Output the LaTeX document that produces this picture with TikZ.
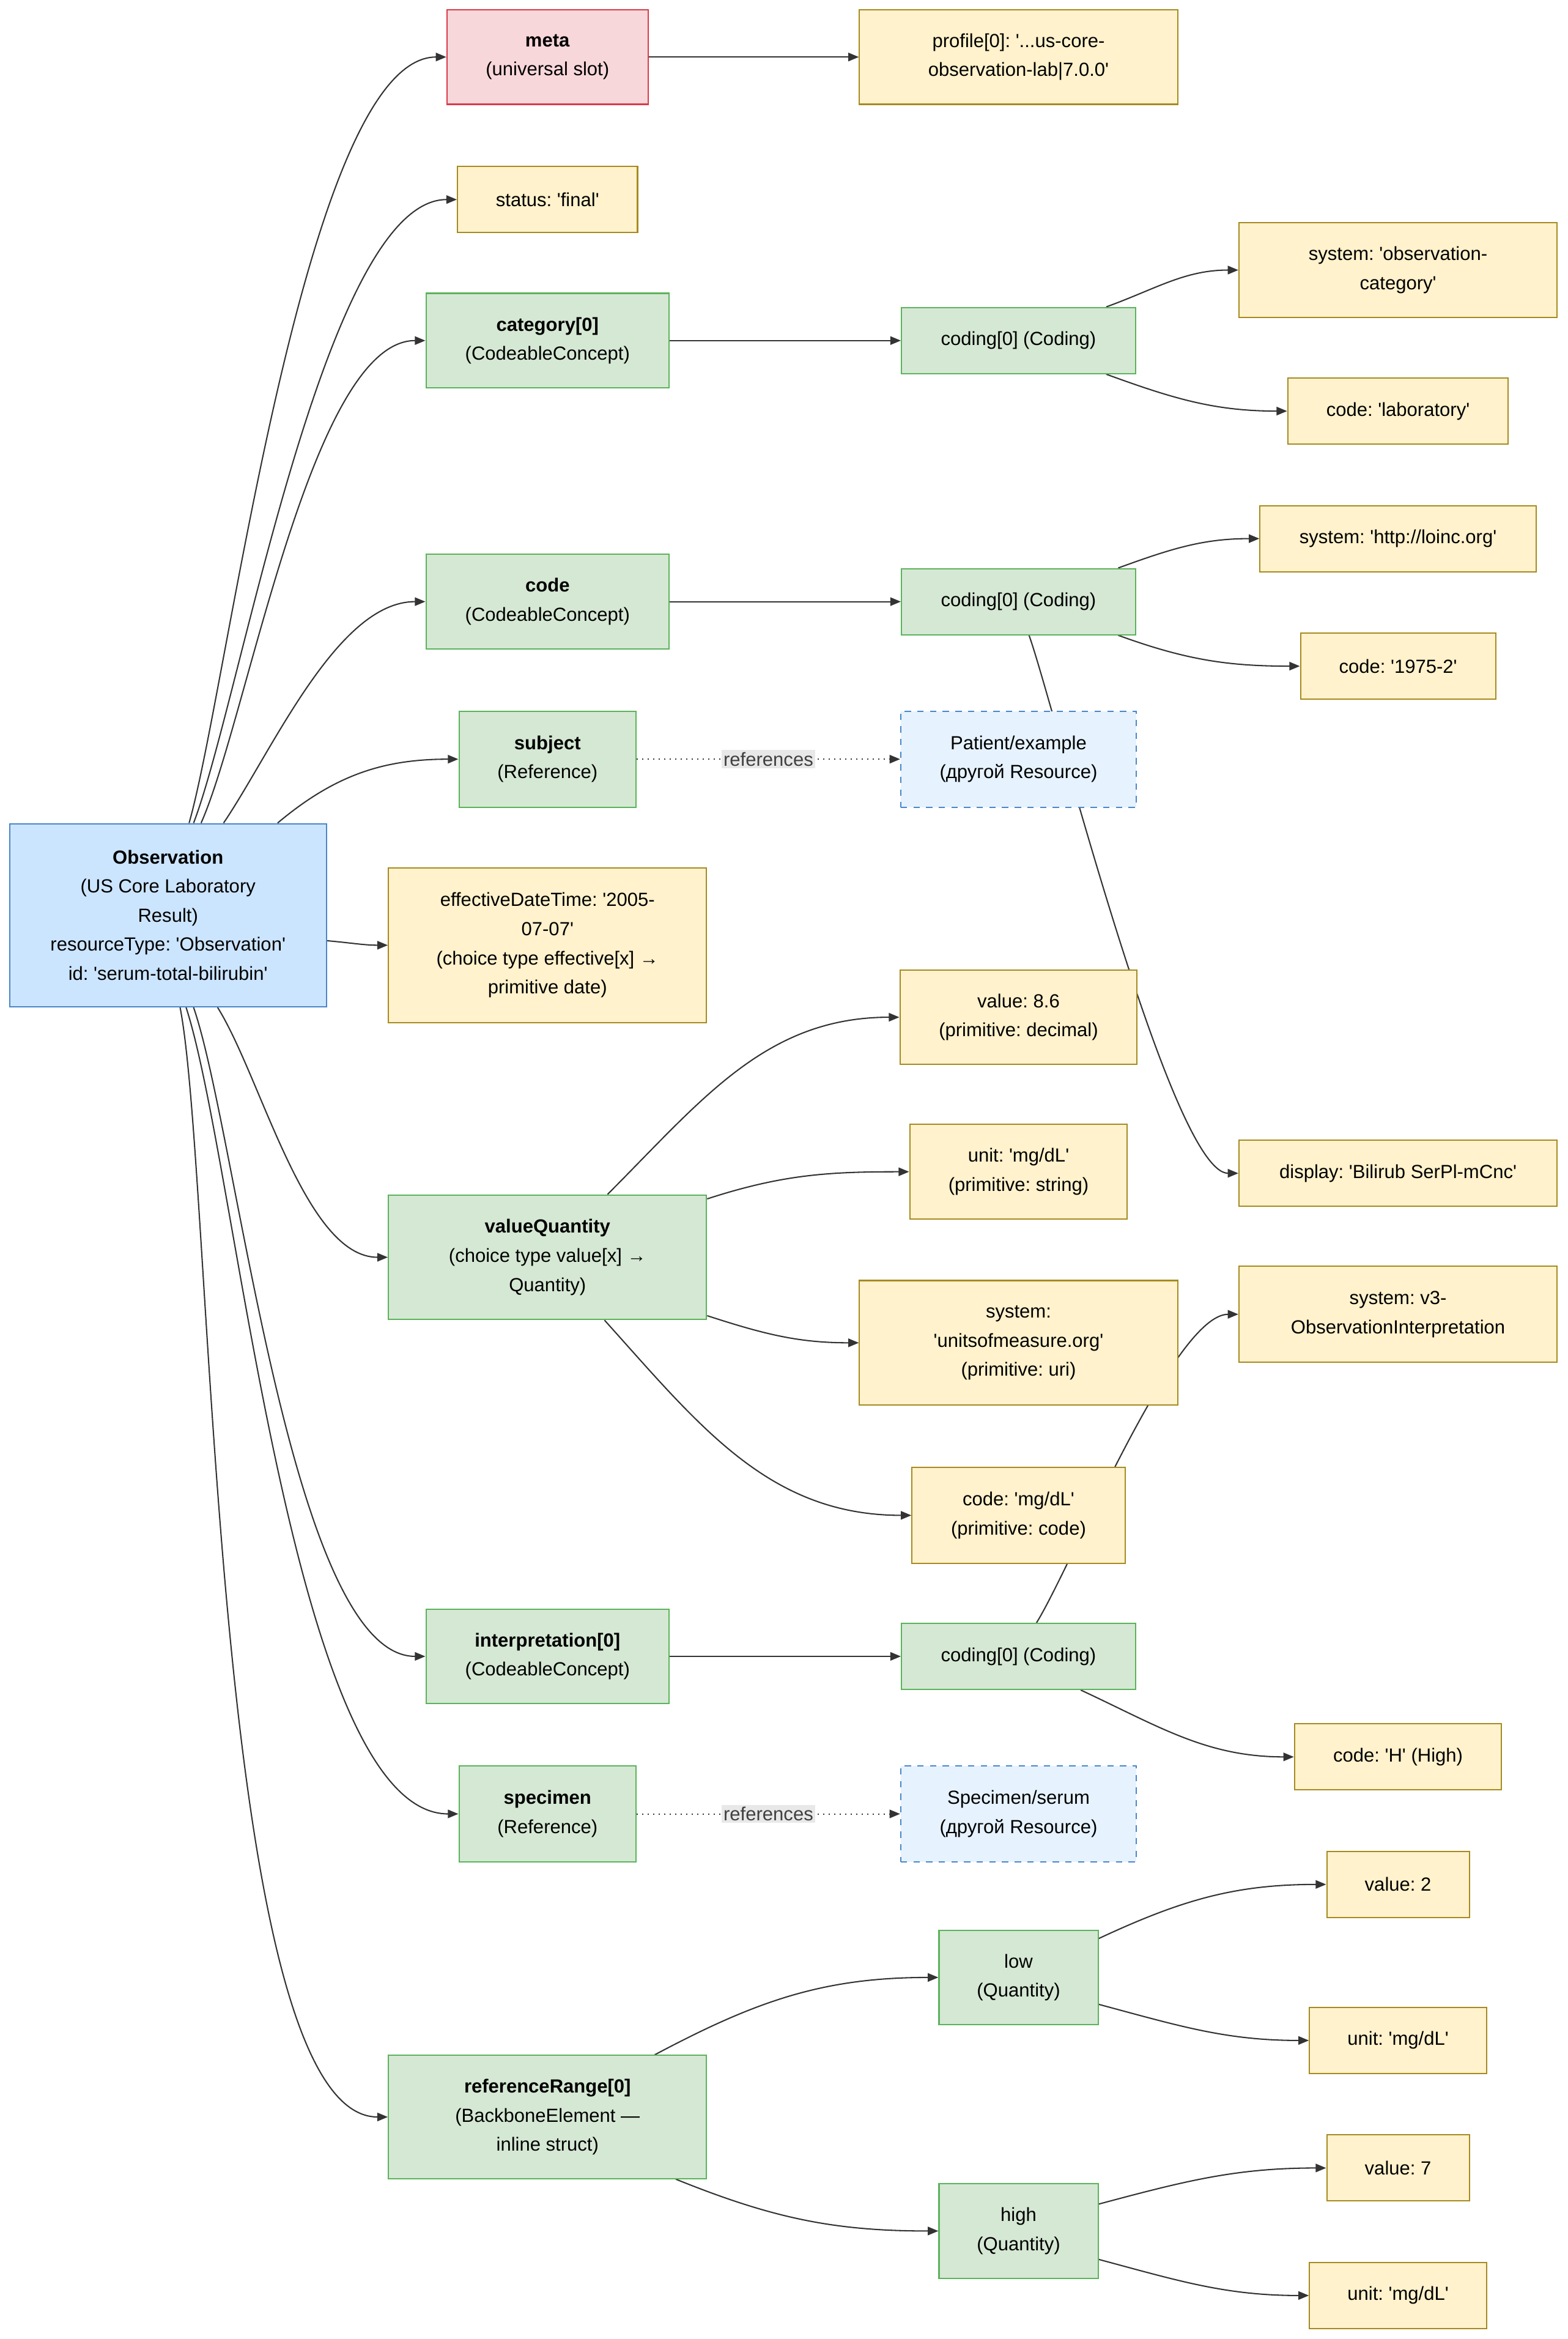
\documentclass[tikz,border=0pt]{standalone}
\usepackage{fontspec}
\setmainfont{Liberation Sans}
\usetikzlibrary{arrows.meta,calc,backgrounds}

\definecolor{yfill}{HTML}{FFF2CC}
\definecolor{ydraw}{HTML}{A68A1F}
\definecolor{gfill}{HTML}{D5E8D4}
\definecolor{gdraw}{HTML}{5BB35B}
\definecolor{rfill}{HTML}{F8D7DA}
\definecolor{rdraw}{HTML}{D93A4A}
\definecolor{bfill}{HTML}{CCE5FF}
\definecolor{bdraw}{HTML}{4A86C8}
\definecolor{rfill2}{HTML}{E6F2FD}
\definecolor{edge}{HTML}{333333}
\newcommand{\q}{\textquotesingle}

\begin{document}
\frenchspacing
\begin{tikzpicture}[x=0.025cm,y=-0.025cm,
	font=\fontsize{9}{13.8}\selectfont,
	box/.style={draw,align=center,inner sep=2pt,line width=0.6pt},
	prim/.style={box,fill=yfill,draw=ydraw},
	cplx/.style={box,fill=gfill,draw=gdraw},
	slot/.style={box,fill=rfill,draw=rdraw},
	root/.style={box,fill=bfill,draw=bdraw},
	ref/.style={box,fill=rfill2,draw=bdraw,dashed},
	arr/.style={draw=edge,line width=0.6pt,-{Triangle[length=5pt,width=4pt]}},
	refarr/.style={arr,dotted},
	reflabel/.style={fill=gray!18,text=black!75,inner sep=1pt}]
	\useasboundingbox (0,0) rectangle (1045,1559);

	% root
	\node (Obs) at (112,610) [root,minimum width=5.275cm,minimum height=3.05cm] {\textbf{Observation}\\(US Core Laboratory\\Result)\\resourceType: \q Observation\q\\id: \q serum-total-bilirubin\q};

	% first level
	\node (Meta) at (365,38) [slot,minimum width=3.35cm,minimum height=1.575cm] {\textbf{meta}\\(universal slot)};
	\node (Status) at (365,133) [prim,minimum width=3cm,minimum height=1.1cm] {status: \q final\q};
	\node (Cat) at (365,227) [cplx,minimum width=4.05cm,minimum height=1.575cm] {\textbf{category[0]}\\(CodeableConcept)};
	\node (Code) at (365,401) [cplx,minimum width=4.05cm,minimum height=1.575cm] {\textbf{code}\\(CodeableConcept)};
	\node (Subj) at (365,506) [cplx,minimum width=2.95cm,minimum height=1.6cm] {\textbf{subject}\\(Reference)};
	\node (Eff) at (365,630) [prim,minimum width=5.3cm,minimum height=2.575cm] {effectiveDateTime: \q 2005-\\07-07\q\\(choice type effective[x] →\\primitive date)};
	\node (VQ) at (365,838) [cplx,minimum width=5.3cm,minimum height=2.075cm] {\textbf{valueQuantity}\\(choice type value[x] →\\Quantity)};
	\node (Interp) at (365,1104) [cplx,minimum width=4.05cm,minimum height=1.575cm] {\textbf{interpretation[0]}\\(CodeableConcept)};
	\node (Spec) at (365,1209) [cplx,minimum width=2.95cm,minimum height=1.6cm] {\textbf{specimen}\\(Reference)};
	\node (RR) at (365,1411) [cplx,minimum width=5.3cm,minimum height=2.05cm] {\textbf{referenceRange[0]}\\(BackboneElement —\\inline struct)};

	% second level
	\node (Prof) at (679,38) [prim,minimum width=5.3cm,minimum height=1.575cm] {profile[0]: \q...us-core-\\observation-lab|7.0.0\q};
	\node (CatCod) at (679,227) [cplx,minimum width=3.9cm,minimum height=1.1cm] {coding[0] (Coding)};
	\node (CodeCod) at (679,401) [cplx,minimum width=3.9cm,minimum height=1.1cm] {coding[0] (Coding)};
	\node (Pat) at (679,506) [ref,minimum width=3.925cm,minimum height=1.6cm] {Patient/example\\(другой Resource)};
	\node (Val) at (679,678) [prim,minimum width=3.95cm,minimum height=1.575cm] {value: 8.6\\(primitive: decimal)};
	\node (Unit) at (679,781) [prim,minimum width=3.625cm,minimum height=1.575cm] {unit: \q mg/dL\q\\(primitive: string)};
	\node (USys) at (679,895) [prim,minimum width=5.3cm,minimum height=2.075cm] {system:\\\q unitsofmeasure.org\q\\(primitive: uri)};
	\node (UCode) at (679,1010) [prim,minimum width=3.55cm,minimum height=1.6cm] {code: \q mg/dL\q\\(primitive: code)};
	\node (IntCod) at (679,1104) [cplx,minimum width=3.9cm,minimum height=1.1cm] {coding[0] (Coding)};
	\node (Serum) at (679,1209) [ref,minimum width=3.925cm,minimum height=1.6cm] {Specimen/serum\\(другой Resource)};
	\node (Low) at (679,1318) [cplx,minimum width=2.65cm,minimum height=1.575cm] {low\\(Quantity)};
	\node (High) at (679,1487) [cplx,minimum width=2.65cm,minimum height=1.575cm] {high\\(Quantity)};

	% third level
	\node (CatSys) at (932,180) [prim,minimum width=5.3cm,minimum height=1.575cm] {system: \q observation-\\category\q};
	\node (CatCode) at (932,274) [prim,minimum width=3.675cm,minimum height=1.1cm] {code: \q laboratory\q};
	\node (Loinc) at (932,359) [prim,minimum width=4.6cm,minimum height=1.1cm] {system: \q http://loinc.org\q};
	\node (LCode) at (932,444) [prim,minimum width=3.25cm,minimum height=1.1cm] {code: \q 1975-2\q};
	\node (Disp) at (932,782) [prim,minimum width=5.3cm,minimum height=1.1cm] {display: \q Bilirub SerPl-mCnc\q};
	\node (V3) at (932,876) [prim,minimum width=5.3cm,minimum height=1.6cm] {system: v3-\\ObservationInterpretation};
	\node (HCode) at (932,1171) [prim,minimum width=3.45cm,minimum height=1.1cm] {code: \q H\q\ (High)};
	\node (LVal) at (932,1256) [prim,minimum width=2.375cm,minimum height=1.1cm] {value: 2};
	\node (LUnit) at (932,1360) [prim,minimum width=2.95cm,minimum height=1.1cm] {unit: \q mg/dL\q};
	\node (HVal) at (932,1445) [prim,minimum width=2.375cm,minimum height=1.1cm] {value: 7};
	\node (HUnit) at (932,1530) [prim,minimum width=2.95cm,minimum height=1.1cm] {unit: \q mg/dL\q};

	\begin{scope}[on background layer]
		% from the root
		\draw [arr] ($(Obs.north west)+(120,0)$) to[out=74,in=180,looseness=0.45] (Meta.west);
		\draw [arr] ($(Obs.north west)+(123,0)$) to[out=69,in=180,looseness=0.5] (Status.west);
		\draw [arr] ($(Obs.north west)+(128,0)$) to[out=66,in=180,looseness=0.55] (Cat.west);
		\draw [arr] ($(Obs.north west)+(143,0)$) to[out=56,in=180,looseness=0.75] (Code.west);
		\draw [arr] ($(Obs.north west)+(179,0)$) to[out=40,in=180] (Subj.west);
		\draw [arr] ($(Obs.east)+(0,17)$) to[out=-5,in=180] (Eff.west);
		\draw [arr] ($(Obs.south west)+(139,0)$) to[out=-58,in=180,looseness=0.7] (VQ.west);
		\draw [arr] ($(Obs.south west)+(123,0)$) to[out=-71,in=180,looseness=0.5] (Interp.west);
		\draw [arr] ($(Obs.south west)+(118,0)$) to[out=-72,in=180,looseness=0.5] (Spec.west);
		\draw [arr] ($(Obs.south west)+(114,0)$) to[out=-79,in=180,looseness=0.4] (RR.west);

		\draw [arr] (Meta) -- (Prof);
		\draw [arr] (Cat) -- (CatCod);
		\draw [arr] (Code) -- (CodeCod);
		\draw [arr] (Interp) -- (IntCod);
		\draw [refarr] (Subj) -- node [reflabel] {references} (Pat);
		\draw [refarr] (Spec) -- node [reflabel] {references} (Serum);

		\draw [arr] ($(CatCod.north east)+(-20,0)$) to[out=20,in=180] (CatSys.west);
		\draw [arr] ($(CatCod.south east)+(-20,0)$) to[out=-20,in=180] (CatCode.west);
		\draw [arr] ($(CodeCod.north east)+(-12,0)$) to[out=20,in=180] (Loinc.west);
		\draw [arr] ($(CodeCod.south east)+(-12,0)$) to[out=-20,in=180] (LCode.west);
		\draw [arr] ($(CodeCod.south)+(7,0)$) to[out=-70,in=180,looseness=0.3] (Disp.west);

		\draw [arr] ($(VQ.north)+(40,0)$) to[out=45,in=180] (Val.west);
		\draw [arr] ($(VQ.north east)+(0,3)$) to[out=18,in=180] (Unit.west);
		\draw [arr] ($(VQ.south east)+(0,-3)$) to[out=-18,in=180] (USys.west);
		\draw [arr] ($(VQ.south)+(38,0)$) to[out=-48,in=180] (UCode.west);

		\draw [arr] ($(IntCod.north)+(12,0)$) to[out=58,in=180,looseness=0.45] (V3.west);
		\draw [arr] ($(IntCod.south east)+(-37,0)$) to[out=-25,in=180] (HCode.west);

		\draw [arr] ($(RR.north east)+(-35,0)$) to[out=28,in=180] (Low.west);
		\draw [arr] ($(RR.south east)+(-21,0)$) to[out=-22,in=180] (High.west);
		\draw [arr] ($(Low.north east)+(0,6)$) to[out=25,in=180] (LVal.west);
		\draw [arr] ($(Low.south east)+(0,-14)$) to[out=-15,in=180] (LUnit.west);
		\draw [arr] ($(High.north east)+(0,14)$) to[out=15,in=180] (HVal.west);
		\draw [arr] ($(High.south east)+(0,-13)$) to[out=-15,in=180] (HUnit.west);
	\end{scope}
\end{tikzpicture}
\end{document}
